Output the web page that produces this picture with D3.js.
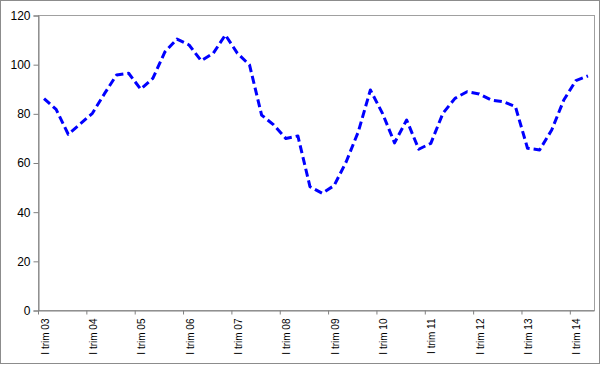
<!DOCTYPE html>
<html>
<head>
<meta charset="UTF-8">
<style>
    body { margin: 0; background: #fff; }
    svg text { font-family: "Liberation Sans", Arial, sans-serif; fill: #000; }
    .y-axis text { font-size: 12px; }
    .x-axis text { font-size: 10px; }
    .domain, .tick line { stroke: #808080; }
</style>
</head>
<body>
<script src="https://d3js.org/d3.v7.min.js"></script>
<script>
    // Donnees trimestrielles, I trim 03 -> II trim 14
    var quarters = ["I", "II", "III", "IV"];
    var years = ["03", "04", "05", "06", "07", "08", "09", "10", "11", "12", "13", "14"];
    var values = [
        86, 81.6, 71.5, 75.7,
        80, 88, 95.6, 96.3,
        89.8, 94.2, 105, 110.2,
        107.8, 101.4, 104.4, 111.9,
        104.4, 99.7, 79.3, 75.3,
        69.8, 70.8, 50.2, 47.5,
        50.6, 60.3, 72.5, 89.5,
        80, 68, 77.3, 65.4,
        67.8, 80, 86.1, 88.8,
        87.9, 85.4, 84.7, 82.7,
        65.8, 65.1, 73.2, 85.4,
        93.3, 95.2
    ];
    var yTicks = [0, 20, 40, 60, 80, 100, 120];

    var categories = [];
    years.forEach(function(y) {
        quarters.forEach(function(q) { categories.push(q + " trim " + y); });
    });
    categories = categories.slice(0, values.length);

    var width = 600, height = 365;
    var margin = {top: 15, right: 6, bottom: 55, left: 38};

    var svg = d3.select("body").append("svg")
        .attr("width", width)
        .attr("height", height);

    // cadre exterieur
    svg.append("rect")
        .attr("x", 0.5).attr("y", 0.5)
        .attr("width", width - 1).attr("height", 363)
        .attr("fill", "#fff")
        .attr("stroke", "#8c8c8c");

    var x = d3.scaleBand()
        .domain(categories)
        .range([margin.left, width - margin.right])
        .padding(0);

    var y = d3.scaleLinear()
        .domain([0, 120])
        .range([height - margin.bottom, margin.top]);

    // bord du graphe
    svg.append("rect")
        .attr("x", margin.left + 0.5).attr("y", margin.top + 0.5)
        .attr("width", width - margin.right - margin.left)
        .attr("height", height - margin.bottom - margin.top)
        .attr("fill", "none")
        .attr("stroke", "#a0a0a0");

    // axe Y
    svg.append("g")
        .attr("class", "y-axis")
        .attr("transform", "translate(" + (margin.left + 0.5) + ",0.5)")
        .call(d3.axisLeft(y).tickValues(yTicks).tickSize(5).tickPadding(3).tickFormat(d3.format("d")))
        .call(function(g) { g.select(".domain").attr("stroke", "#606060"); });

    // axe X
    var labelCats = categories.filter(function(d, i) { return i % 4 === 0; });
    var xAxis = svg.append("g")
        .attr("class", "x-axis")
        .attr("transform", "translate(0," + (y(0) + 0.5) + ")")
        .call(d3.axisBottom(x).tickValues(labelCats).tickSize(0).tickSizeOuter(0));

    xAxis.select(".domain").attr("stroke", "#606060");

    xAxis.selectAll(".tick line")
        .attr("x1", -x.bandwidth() / 2 + 0.5)
        .attr("x2", -x.bandwidth() / 2 + 0.5)
        .attr("y2", 4);

    xAxis.selectAll(".tick text")
        .attr("transform", "rotate(-90)")
        .attr("text-anchor", "end")
        .attr("x", -8)
        .attr("y", 1)
        .attr("dy", "0.35em");

    // ligne
    var line = d3.line()
        .x(function(d, i) { return x(categories[i]) + x.bandwidth() / 2; })
        .y(function(d) { return y(d); });

    svg.append("path")
        .datum(values)
        .attr("d", line)
        .attr("fill", "none")
        .attr("stroke", "#0000ff")
        .attr("stroke-width", 3)
        .attr("stroke-dasharray", "8,4")
        .attr("stroke-linejoin", "round");
</script>
</body>
</html>
